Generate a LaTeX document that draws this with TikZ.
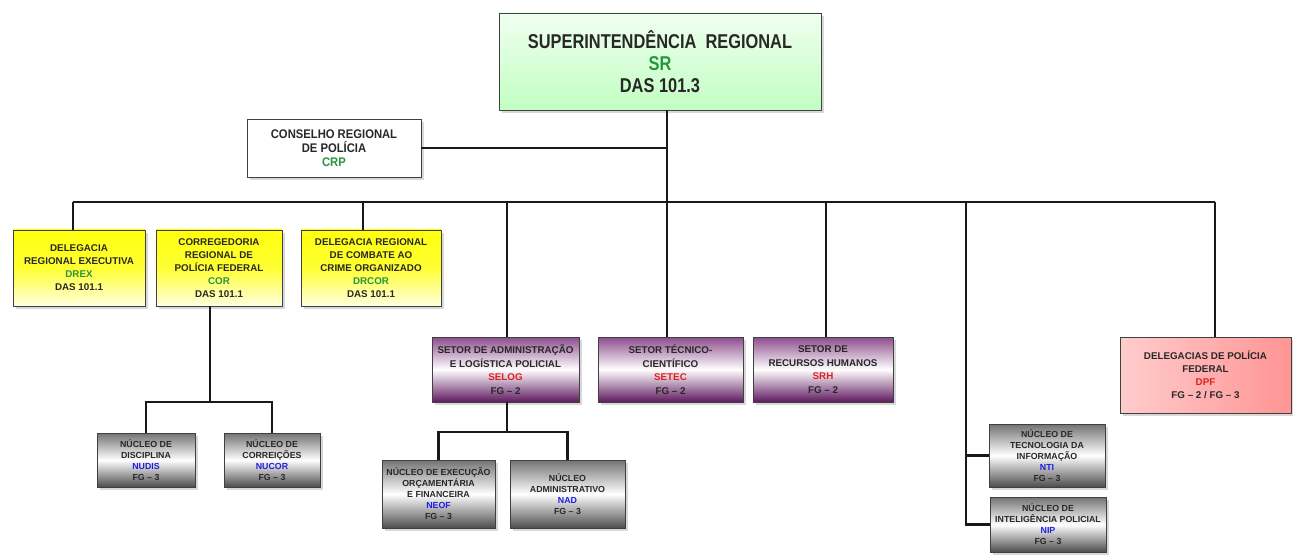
\documentclass[tikz,border=0pt]{standalone}
\usepackage{fontspec}
\setmainfont{Liberation Sans}
\newfontfamily\narrowfont[FakeStretch=0.82]{Liberation Sans}
\newfontfamily\crpfont[FakeStretch=0.9]{Liberation Sans}
\usetikzlibrary{shadows}
\definecolor{tgreen}{RGB}{40,150,60}
\definecolor{tred}{RGB}{225,30,30}
\definecolor{tblue}{RGB}{30,30,225}
\definecolor{txt}{RGB}{40,40,40}
\definecolor{purp}{RGB}{120,45,120}
\definecolor{purpd}{RGB}{95,25,95}
\begin{document}
\begin{tikzpicture}[x=1pt,y=-1pt,
  box/.style={draw=black!75, line width=0.9pt, inner sep=0pt, align=center, text=txt,
    drop shadow={shadow xshift=3pt, shadow yshift=-3pt, fill=black!30, opacity=0.5}},
  conn/.style={line width=2.2pt, draw=black!90},
  srbox/.style={box, top color=green!6!white, bottom color=green!24!white,
    font=\narrowfont\bfseries\fontsize{20}{22}\selectfont},
  crpbox/.style={box, fill=white, font=\crpfont\bfseries\fontsize{12.5}{14}\selectfont},
  yelbox/.style={box, top color=yellow!95!white, bottom color=yellow!12!white, middle color=yellow!80!white,
    font=\bfseries\fontsize{9.8}{13}\selectfont},
  purbox/.style={box, top color=purp!85, bottom color=purpd, middle color=white,
    font=\bfseries\fontsize{9.8}{13.5}\selectfont},
  pinkbox/.style={box, left color=red!20!white, right color=red!42!white,
    font=\bfseries\fontsize{9.8}{13}\selectfont},
  graybox/.style={box, top color=black!55, bottom color=black!70, middle color=white,
    font=\bfseries\fontsize{8.8}{11}\selectfont}
]
\useasboundingbox (0,0) rectangle (1293,556);
\fill[white] (0,0) rectangle (1293,556);

% nodes
\node[srbox, minimum width=322pt, minimum height=97pt] (SR) at (660,61.5)
  {SUPERINTENDÊNCIA\ \ REGIONAL\\\textcolor{tgreen}{SR}\\DAS 101.3};
\node[crpbox, minimum width=174pt, minimum height=58pt] (CRP) at (334,148)
  {CONSELHO REGIONAL\\DE POLÍCIA\\\textcolor{tgreen}{CRP}};

\node[yelbox, minimum width=132pt, minimum height=76pt] (DREX) at (79,268)
  {DELEGACIA\\REGIONAL EXECUTIVA\\\textcolor{tgreen}{DREX}\\DAS 101.1};
\node[yelbox, minimum width=126pt, minimum height=76pt] (COR) at (219,268)
  {CORREGEDORIA\\REGIONAL DE\\POLÍCIA FEDERAL\\\textcolor{tgreen}{COR}\\DAS 101.1};
\node[yelbox, minimum width=140pt, minimum height=76pt] (DRCOR) at (371,268)
  {DELEGACIA REGIONAL\\DE COMBATE AO\\CRIME ORGANIZADO\\\textcolor{tgreen}{DRCOR}\\DAS 101.1};

\node[purbox, minimum width=147pt, minimum height=65pt] (SELOG) at (505.5,369.5)
  {SETOR DE ADMINISTRAÇÃO\\E LOGÍSTICA POLICIAL\\\textcolor{tred}{SELOG}\\FG – 2};
\node[purbox, minimum width=145pt, minimum height=65pt] (SETEC) at (670.5,369.5)
  {SETOR TÉCNICO-\\CIENTÍFICO\\\textcolor{tred}{SETEC}\\FG – 2};
\node[purbox, minimum width=140pt, minimum height=65pt] (SRH) at (823,369.5)
  {SETOR DE\\RECURSOS HUMANOS\\\textcolor{tred}{SRH}\\FG – 2};
\node[pinkbox, minimum width=171pt, minimum height=76pt] (DPF) at (1205.5,375)
  {DELEGACIAS DE POLÍCIA\\FEDERAL\\\textcolor{tred}{DPF}\\FG – 2 / FG – 3};

\node[graybox, minimum width=98pt, minimum height=54pt] (NUDIS) at (146,460)
  {NÚCLEO DE\\DISCIPLINA\\\textcolor{tblue}{NUDIS}\\FG – 3};
\node[graybox, minimum width=96pt, minimum height=54pt] (NUCOR) at (272,460)
  {NÚCLEO DE\\CORREIÇÕES\\\textcolor{tblue}{NUCOR}\\FG – 3};
\node[graybox, minimum width=113pt, minimum height=68pt] (NEOF) at (438.5,494)
  {NÚCLEO DE EXECUÇÃO\\ORÇAMENTÁRIA\\E FINANCEIRA\\\textcolor{tblue}{NEOF}\\FG – 3};
\node[graybox, minimum width=115pt, minimum height=68pt] (NAD) at (567.5,494)
  {NÚCLEO\\ADMINISTRATIVO\\\textcolor{tblue}{NAD}\\FG – 3};
\node[graybox, minimum width=116pt, minimum height=63pt] (NTI) at (1047,455.5)
  {NÚCLEO DE\\TECNOLOGIA DA\\INFORMAÇÃO\\\textcolor{tblue}{NTI}\\FG – 3};
\node[graybox, minimum width=116pt, minimum height=55pt] (NIP) at (1048,524.5)
  {NÚCLEO DE\\INTELIGÊNCIA POLICIAL\\\textcolor{tblue}{NIP}\\FG – 3};

% junction coordinates
\coordinate (bus) at (0,202);
\coordinate (trunk) at (667,0);
\coordinate (corj) at (210,402);
\coordinate (selj) at (507,432);
\coordinate (ntj) at (966,202);

% connectors
\draw[conn] (SR.south -| trunk) -- (SETEC.north -| trunk);
\draw[conn] (CRP.east) -- (CRP.east -| trunk);
\draw[conn] ([xshift=-6pt]DREX.north |- bus) -- ([xshift=9.5pt]DPF.north |- bus);
\draw[conn] ([xshift=-6pt]DREX.north) -- ([xshift=-6pt]DREX.north |- bus);
\draw[conn] (COR.north -| corj) -- (COR.north -| corj |- bus);
\draw[conn] ([xshift=-8pt]DRCOR.north) -- ([xshift=-8pt]DRCOR.north |- bus);
\draw[conn] (SELOG.north -| selj) -- (selj |- bus);
\draw[conn] ([xshift=3pt]SRH.north) -- ([xshift=3pt]SRH.north |- bus);
\draw[conn] ([xshift=9.5pt]DPF.north) -- ([xshift=9.5pt]DPF.north |- bus);

\draw[conn] (COR.south -| corj) -- (corj);
\draw[conn] (NUDIS.north) |- (corj) -| (NUCOR.north);
\draw[conn] (SELOG.south -| selj) -- (selj);
\draw[conn] (NEOF.north) |- (selj) -| (NAD.north);
\draw[conn] (ntj) |- (NIP.west);
\draw[conn] (NTI.west -| ntj) -- (NTI.west);
\end{tikzpicture}
\end{document}
